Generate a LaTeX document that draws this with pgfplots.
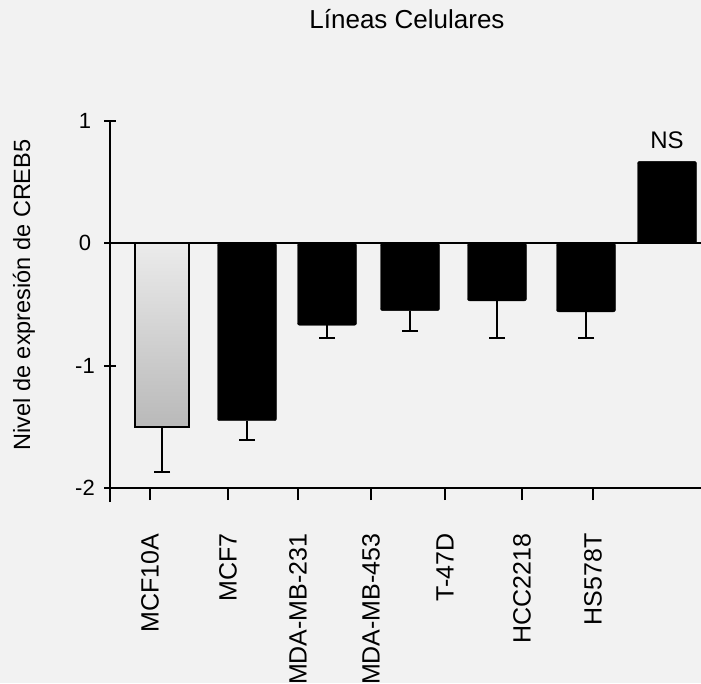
\documentclass[border=0pt]{standalone}
\usepackage{pgfplots}
\pgfplotsset{compat=1.18}
\usepackage{fontspec}
\setmainfont{Liberation Sans}
\definecolor{bg}{HTML}{F2F2F2}
\definecolor{gtop}{HTML}{EBEBEB}
\definecolor{gbot}{HTML}{B9B9B9}
\begin{document}
\begin{tikzpicture}[x=1pt,y=1pt]
\fill[bg] (0,0) rectangle (701,683);
\useasboundingbox (0,0) rectangle (701,683);
\begin{axis}[
  at={(110pt,195pt)}, anchor=south west,
  scale only axis, width=591pt, height=367pt,
  xmin=110, xmax=701, ymin=-2, ymax=1,
  clip=false,
  axis lines=left,
  axis line style={-, line width=2pt, black},
  y axis line style={shorten <=-14pt},
  xtick={150,228,298,371,445,522,593},
  xticklabels={MCF10A,MCF7,MDA-MB-231,MDA-MB-453,T-47D,HCC2218,HS578T},
  ytick={-2,-1,0,1},
  yticklabels={-2,-1,0,1},
  tick style={black, line width=2pt},
  major tick length=12pt,
  tick align=center,
  xtick style={yshift=-6pt},
  xticklabel style={rotate=90, anchor=east, font=\fontsize{25}{29}\selectfont},
  xticklabel shift=36pt,
  yticklabel style={anchor=center, font=\fontsize{22}{26}\selectfont},
  yticklabel shift=19pt,
  title={Líneas Celulares},
  title style={at={(rel axis cs:0.5025,1.2616)}, anchor=center, font=\fontsize{26}{30}\selectfont},
  ylabel={Nivel de expresión de CREB5},
  ylabel style={at={(rel axis cs:-0.1455,0.526)}, anchor=center, font=\fontsize{23.5}{27}\selectfont},
]
\draw[line width=2pt, black] (axis cs:110,0) -- (axis cs:701,0);
\addplot[ybar, bar width=54, bar shift=0pt, draw=black, line width=2pt,
  top color=gtop, bottom color=gbot,
  error bars/.cd, y dir=minus, y explicit,
  error bar style={line width=2pt, black},
  error mark options={rotate=90, mark size=8pt, line width=2pt, black}]
  coordinates {(162,-1.5) +- (0,0.37)};
\addplot[ybar, bar width=59, bar shift=0pt, draw=black, fill=black, rounded corners=2pt,
  error bars/.cd, y dir=minus, y explicit,
  error bar style={line width=2pt, black, sharp corners},
  error mark options={rotate=90, mark size=8pt, line width=2pt, black}]
  coordinates {
    (247,-1.45) +- (0,0.16)
    (327,-0.67) +- (0,0.10)
    (410,-0.55) +- (0,0.17)
    (497,-0.47) +- (0,0.30)
    (586,-0.56) +- (0,0.21)
  };
\addplot[ybar, bar width=59, bar shift=0pt, draw=black, fill=black, rounded corners=2pt]
  coordinates {(667,0.67)};
\node[font=\fontsize{24}{28}\selectfont] at (axis cs:667,0.84) {NS};
\end{axis}
\end{tikzpicture}
\end{document}
